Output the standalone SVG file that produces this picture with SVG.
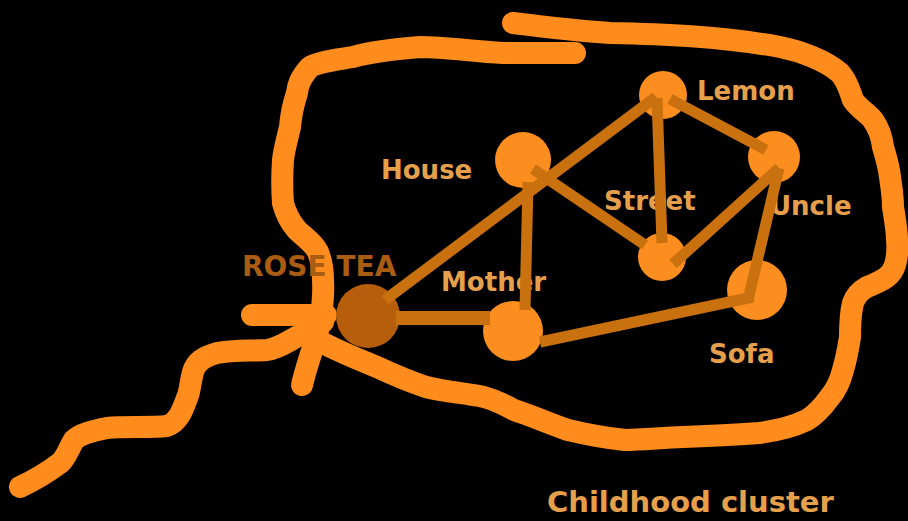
<svg xmlns="http://www.w3.org/2000/svg" width="908" height="521" viewBox="0 0 908 521">
<style>
.stroke{fill:none;stroke:#ff8c1c;stroke-width:22;stroke-linecap:round;stroke-linejoin:round}
.node{fill:#fb8e1e}
.root{fill:#b65e0c}
.edge{stroke:#c9710f;stroke-width:11;stroke-linecap:butt}
.lbl{font-family:"DejaVu Sans",Verdana,sans-serif;font-weight:bold;font-size:26px;fill:#e6a04c}
.rlbl{font-family:"DejaVu Sans",Verdana,sans-serif;font-weight:bold;font-size:28px;fill:#a95c12}
</style>
<rect width="908" height="521" fill="#000"/>
<g id="scribble">
<path class="stroke" d="M575,53 C550,53 525,53 503,53 C470,51 445,47 420,47 C395,49 370,52 353,57 C335,60 318,62 310,67 C300,78 298,85 297,93 C293,105 291,115 290,127 C287,140 284,150 283,160 C282,175 282,190 283,203 C286,215 290,222 297,230 C305,238 313,242 318,252 C322,262 323,270 323,280 C324,295 322,310 320,322"/>
<path class="stroke" d="M513,23 C545,27 580,31 610,33 C660,34 720,36 780,47 C800,51 825,60 840,73 C848,82 850,92 853,100 C860,110 868,113 873,120 C880,130 882,138 883,147 C887,160 889,168 890,177 C892,190 893,200 893,207 C895,220 897,230 897,240 C898,250 897,258 895,265 C892,275 885,280 867,287 C858,292 855,297 853,303 C850,315 850,325 850,337 C848,350 846,360 843,370 C840,382 836,390 830,397 C822,408 815,415 807,420 C790,428 775,431 759,433 C735,435 710,436 683,437 C660,438 640,440 625,440 C605,438 585,434 568,430 C548,423 530,415 514,410 C505,405 495,400 484,397 C465,393 445,392 426,387 C405,380 392,374 377,367 C360,360 340,352 323,343"/>
<path class="stroke" d="M323,322 C315,328 308,332 300,335 C290,340 280,348 267,350 C250,351 232,350 217,353 C203,357 196,362 193,372 C190,383 190,392 187,398 C182,412 178,422 167,426 C150,428 125,426 107,428 C92,431 80,434 74,440 C68,450 66,458 60,463 C48,472 35,480 20,487"/>
<path class="stroke" d="M252,315 L326,315"/>
<path class="stroke" d="M318,332 C312,350 306,368 302,385"/>
</g>
<g id="labels">
<text class="rlbl" x="242" y="276">ROSE TEA</text>
<text class="lbl" x="381" y="179">House</text>
<text class="lbl" x="697" y="100">Lemon</text>
<text class="lbl" x="604" y="210">Street</text>
<text class="lbl" x="770" y="215">Uncle</text>
<text class="lbl" x="441" y="291">Mother</text>
<text class="lbl" x="709" y="363">Sofa</text>
<text class="lbl" x="547" y="512" style="font-size:29px">Childhood cluster</text>
</g>
<g id="node-rose-tea"><circle class="root" cx="368" cy="316" r="32"/></g>
<g id="node-house"><circle class="node" cx="523" cy="160" r="28"/></g>
<g id="node-lemon"><circle class="node" cx="663" cy="95" r="24"/></g>
<g id="node-uncle"><circle class="node" cx="774" cy="157" r="26"/></g>
<g id="node-street"><circle class="node" cx="662" cy="257" r="24"/></g>
<g id="node-sofa"><circle class="node" cx="757" cy="290" r="30"/></g>
<g id="node-mother"><circle class="node" cx="513" cy="331" r="30"/></g>
<g id="connectors">
<line class="edge" x1="385" y1="300" x2="656" y2="97"/>
<line class="edge" x1="396" y1="318" x2="490" y2="318" style="stroke-width:14"/>
<line class="edge" x1="528" y1="182" x2="525" y2="310"/>
<line class="edge" x1="533" y1="169" x2="645" y2="245"/>
<line class="edge" x1="540" y1="342" x2="753" y2="297"/>
<line class="edge" x1="657" y1="98" x2="662" y2="243"/>
<line class="edge" x1="670" y1="99" x2="766" y2="150"/>
<line class="edge" x1="779" y1="168" x2="673" y2="264"/>
<line class="edge" x1="779" y1="168" x2="748" y2="300"/>
</g>
</svg>
